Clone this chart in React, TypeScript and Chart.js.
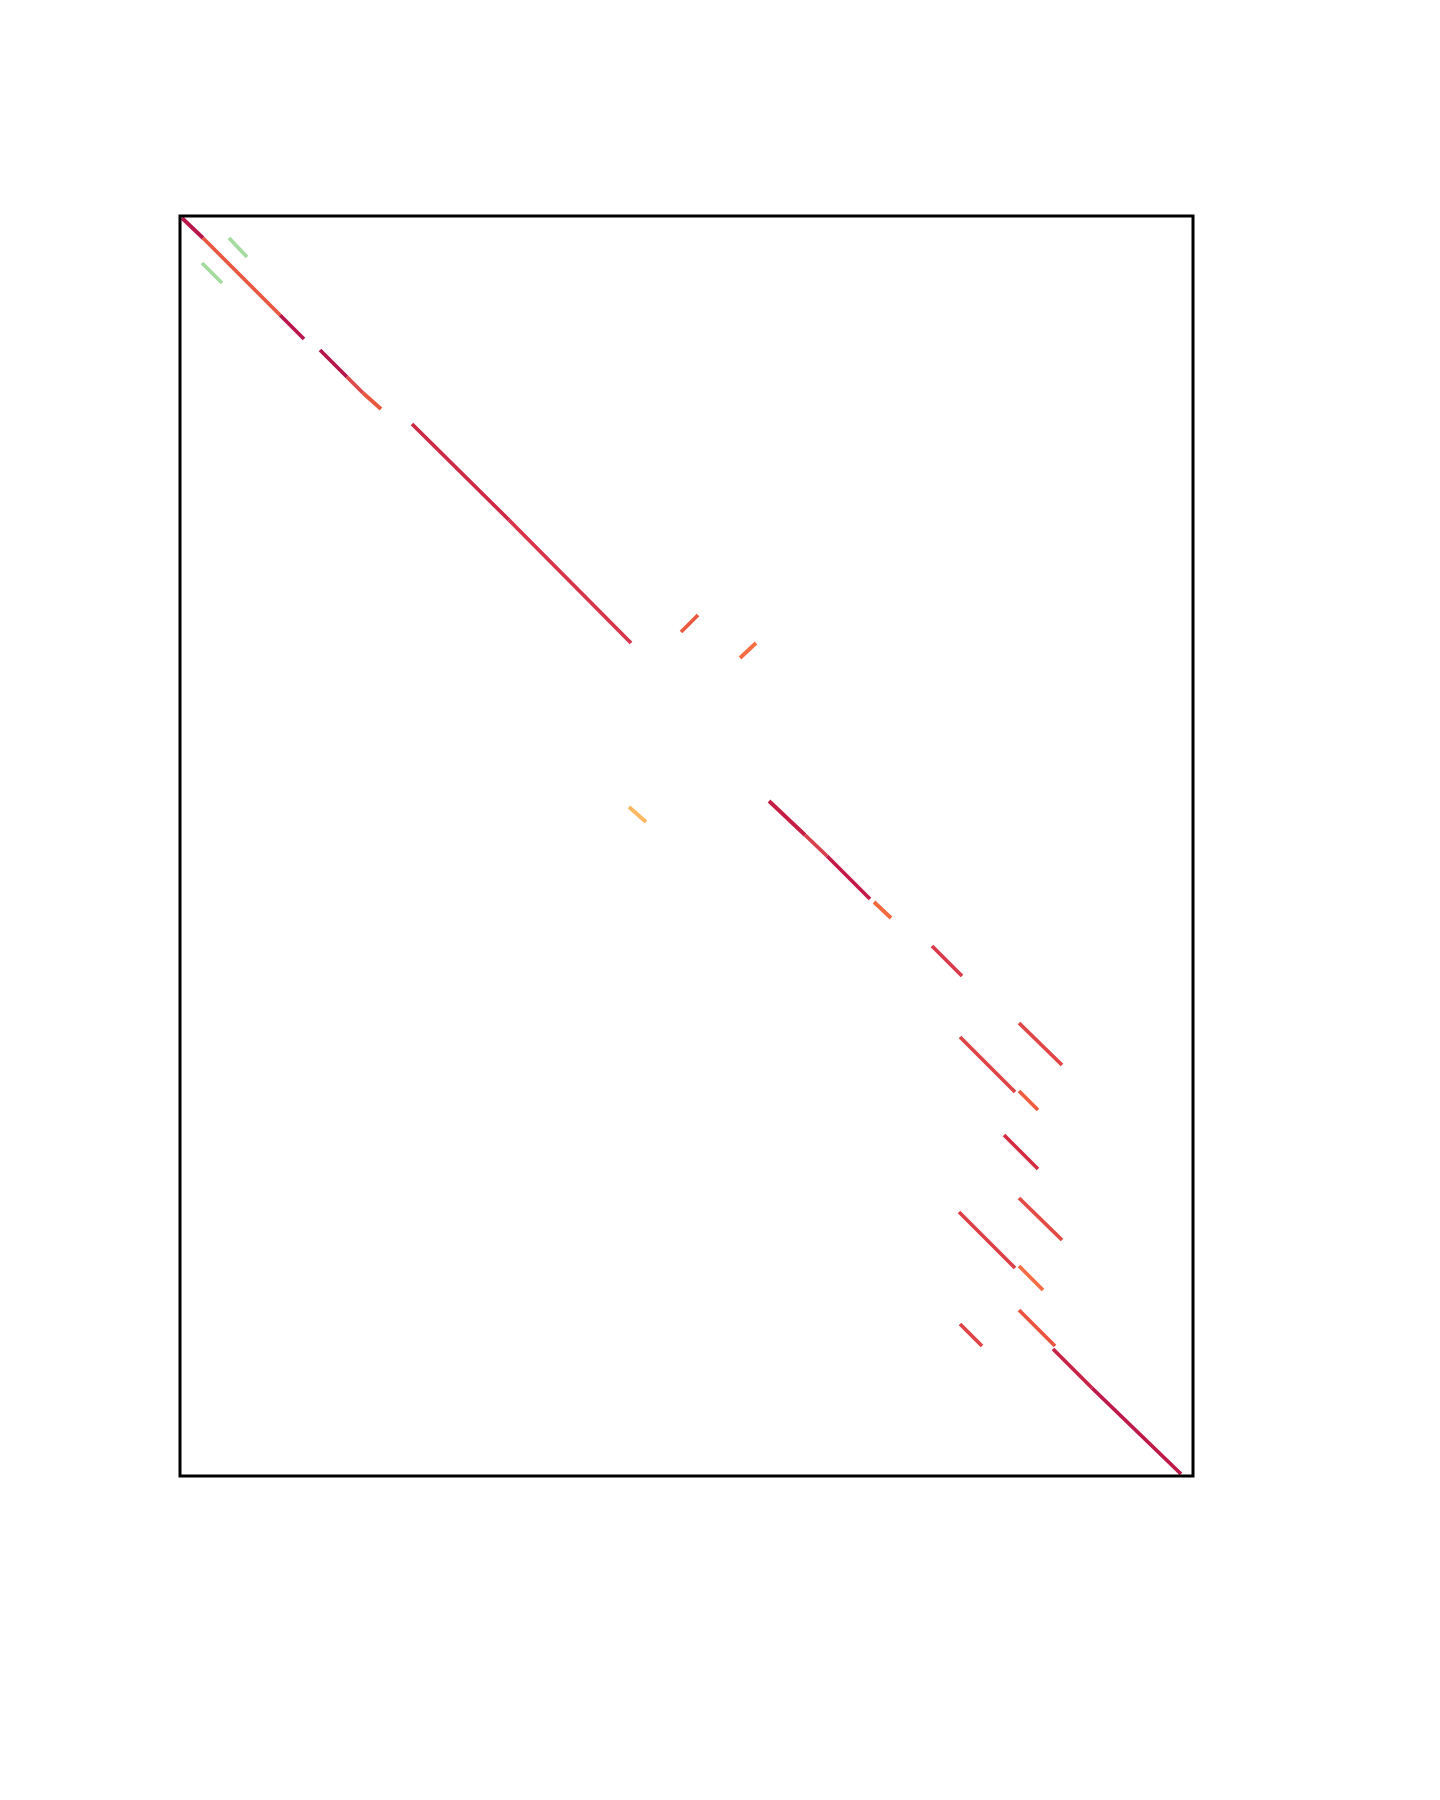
import React, { useEffect, useRef } from "react";
import { Chart, registerables } from "chart.js";

Chart.register(...registerables);

// Alignment segments (query position x, reference position y), in kb
const segStartX = [2, 23, 100, 140, 167, 183, 232, 329, 501, 560, 449, 589, 625, 647, 694, 752, 780, 839, 839, 824, 839, 779, 839, 839, 780, 873, 912, 49, 22];
const segStartY = [2, 22, 99, 134, 161, 177, 208, 304, 416, 442, 591, 585, 619, 640, 686, 730, 821, 875, 807, 919, 982, 996, 1050, 1094, 1108, 1133, 1172, 22, 47];
const segEndX = [23, 100, 124, 167, 183, 201, 329, 451, 518, 576, 466, 625, 647, 690, 711, 782, 835, 858, 882, 858, 882, 835, 863, 875, 802, 912, 1001, 67, 42];
const segEndY = [22, 99, 123, 161, 177, 193, 304, 427, 399, 427, 606, 619, 640, 683, 702, 760, 876, 894, 849, 953, 1024, 1052, 1074, 1130, 1130, 1172, 1258, 41, 67];

// Colour per segment (identity-based palette)
const segColors = [
  "#b8174a", "#e8583f", "#b8174a", "#b8174a", "#dd4a4a", "#e8583f", "#cc2a45", "#d6354b",
  "#ea5a40", "#f46d43", "#fdb863", "#c41e44", "#d7414b", "#c01c47", "#f2683f", "#d93a4a",
  "#df4447", "#ee5d40", "#e04646", "#d22f47", "#e24c45", "#dc4147", "#f46d43", "#e9563f",
  "#df4447", "#c7244a", "#bd1a4a", "#a6dba0", "#a6dba0",
];

const xMax = 1013;
const yMax = 1260;

const borderPlugin = {
  id: "boxBorder",
  afterDatasetsDraw(chart: any) {
    const { ctx, chartArea } = chart;
    ctx.save();
    ctx.strokeStyle = "#000";
    ctx.lineWidth = 3;
    ctx.strokeRect(chartArea.left, chartArea.top, chartArea.right - chartArea.left, chartArea.bottom - chartArea.top);
    ctx.restore();
  },
};

export default function App() {
  const ref = useRef<HTMLCanvasElement>(null);
  useEffect(() => {
    if (!ref.current) return;
    const datasets = segStartX.map((x0, i) => ({
      data: [
        { x: x0, y: segStartY[i] },
        { x: segEndX[i], y: segEndY[i] },
      ],
      showLine: true,
      borderColor: segColors[i],
      backgroundColor: segColors[i],
      borderWidth: 3.8,
      borderCapStyle: "butt" as const,
      pointRadius: 0,
      pointHoverRadius: 0,
    }));
    const chart = new Chart(ref.current, {
      type: "scatter",
      data: { datasets },
      options: {
        animation: false,
        responsive: false,
        devicePixelRatio: 1,
        layout: { padding: { left: 172, top: 208, right: 215, bottom: 32 } },
        plugins: { legend: { display: false }, tooltip: { enabled: false } },
        scales: {
          x: { type: "linear", min: 0, max: xMax, display: false },
          y: { type: "linear", min: 0, max: yMax, reverse: true, display: false },
        },
      },
      plugins: [borderPlugin],
    });
    return () => chart.destroy();
  }, []);
  return (
    <div style={{ width: 1400, height: 1500 }}>
      <canvas ref={ref} width={1400} height={1500} style={{ display: "block" }} />
    </div>
  );
}
